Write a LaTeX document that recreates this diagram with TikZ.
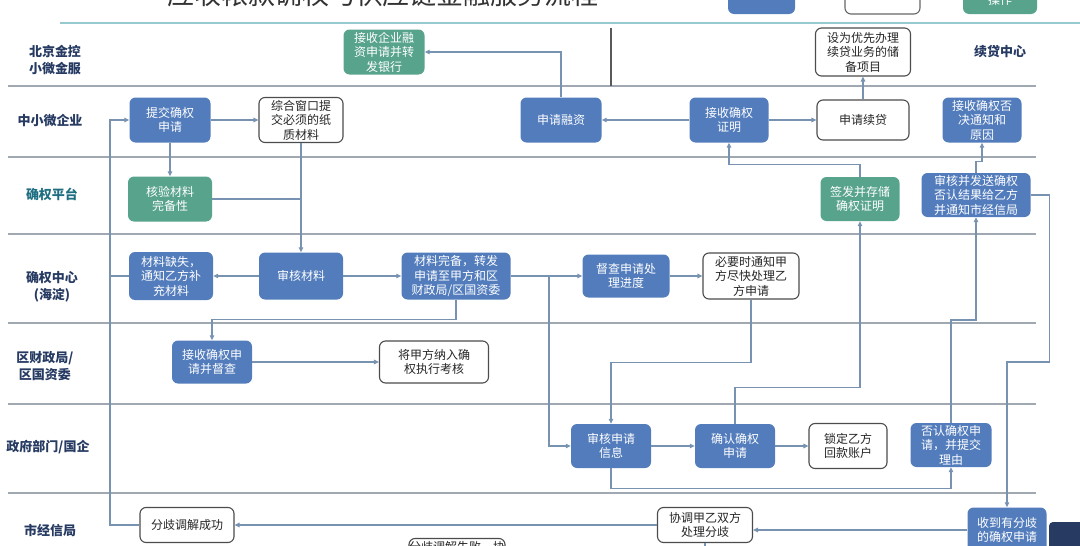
\documentclass[tikz,border=0pt]{standalone}
\usepackage{fontspec}
\setmainfont{Noto Sans CJK SC}
\usetikzlibrary{arrows.meta}
\definecolor{boxblue}{RGB}{82,124,188}
\definecolor{boxgreen}{RGB}{88,163,140}
\definecolor{flow}{RGB}{120,146,178}
\definecolor{lane}{RGB}{160,168,178}
\definecolor{lanetext}{RGB}{38,58,98}
\definecolor{laneteal}{RGB}{30,110,130}
\definecolor{titleline}{RGB}{150,202,208}

\begin{document}
\begin{tikzpicture}[x=1pt,y=-1pt,
  font=\fontsize{12}{14.5}\selectfont,
  box/.style={rounded corners=6pt,minimum width=81pt,minimum height=45pt,inner sep=1pt,align=center},
  bluebox/.style={box,fill=boxblue,text=white},
  greenbox/.style={box,fill=boxgreen,text=white},
  whitebox/.style={box,draw=black!70,line width=1.1pt,fill=white,text=black!85},
  lanelabel/.style={font=\fontsize{13}{17}\selectfont\bfseries,text=lanetext,align=center},
  lanesep/.style={draw=lane,line width=1.3pt},
  link/.style={draw=flow,line width=1.2pt},
  flowline/.style={link,-{Triangle[length=5pt,width=4.5pt]}}]
\useasboundingbox (0,0) rectangle (1080,546);

\node[anchor=base,font=\fontsize{27}{30}\selectfont,text=black!80] (title) at (383,5) {应收帐款确权与供应链金融服务流程};
\fill[boxblue,rounded corners=6pt] (728,-30) rectangle (795,14);
\draw[black!60,line width=1.1pt,rounded corners=6pt] (845,-30) rectangle (920,14);
\fill[boxgreen,rounded corners=6pt] (963,-30) rectangle (1037,14);
\node[anchor=base,text=white] (legend) at (1000,5) {操作};
\draw[titleline,line width=1.6pt] (60,23) -- (1080,23);
\fill[lanetext,rounded corners=4pt] (1049,522) rectangle (1090,560);

\foreach \y in {86,157,234,323,404,493}
  \draw[lanesep] (8,\y) -- (1036,\y);
\draw[black!65,line width=1.4pt] (611,28) -- (611,86);

\node[lanelabel] (lbj) at (55,60) {北京金控\\小微金服};
\node[lanelabel] (lsme) at (50,121) {中小微企业};
\node[lanelabel,text=laneteal] (lplat) at (52,194) {确权平台};
\node[lanelabel] (lcenter) at (52,287) {确权中心\\(海淀)};
\node[lanelabel] (lfin) at (45,366) {区财政局/\\区国资委};
\node[lanelabel] (lgov) at (48,447) {政府部门/国企};
\node[lanelabel] (lcity) at (50,530) {市经信局};
\node[lanelabel] (lloan) at (1000,52) {续贷中心};

\node[greenbox] (bank) at (384,52) {接收企业融\\资申请并转\\发银行};
\node[whitebox,minimum width=95pt,minimum height=48pt] (reserve) at (863,52) {设为优先办理\\续贷业务的储\\备项目};
\node[bluebox] (submit) at (170,120) {提交确权\\申请};
\node[whitebox,minimum width=84pt] (window) at (301,120) {综合窗口提\\交必须的纸\\质材料};
\node[bluebox] (apply) at (561,120) {申请融资};
\node[bluebox,minimum width=79pt] (proof) at (729,120) {接收确权\\证明};
\node[whitebox,minimum width=92pt,minimum height=40pt] (renew) at (863,120) {申请续贷};
\node[bluebox,minimum width=79pt] (rejectnote) at (982,120) {接收确权否\\决通知和\\原因};
\node[greenbox,minimum width=84pt] (verify) at (170,199) {核验材料\\完备性};
\node[greenbox,minimum width=79pt,minimum height=44pt] (issue) at (860,199) {签发并存储\\确权证明};
\node[bluebox,minimum width=109pt,minimum height=44pt] (sendres) at (976,195) {审核并发送确权\\否认结果给乙方\\并通知市经信局};
\node[bluebox,minimum width=84pt,minimum height=48pt] (missing) at (171,276) {材料缺失，\\通知乙方补\\充材料};
\node[bluebox,minimum width=84pt,minimum height=47pt] (review) at (301,276) {审核材料};
\node[bluebox,minimum width=109pt,minimum height=47pt] (complete) at (456,276) {材料完备，转发\\申请至甲方和区\\财政局/区国资委};
\node[bluebox,minimum width=87pt,minimum height=43pt] (supervise) at (626,276) {督查申请处\\理进度};
\node[whitebox,minimum width=96pt,minimum height=46pt] (notify) at (751,276) {必要时通知甲\\方尽快处理乙\\方申请};
\node[bluebox,minimum width=80pt,minimum height=43pt] (receivefin) at (212,362) {接收确权申\\请并督查};
\node[whitebox,minimum width=109pt,minimum height=42pt] (assess) at (434,362) {将甲方纳入确\\权执行考核};
\node[bluebox,minimum width=80pt,minimum height=44pt] (checkinfo) at (611,446) {审核申请\\信息};
\node[bluebox,minimum width=80pt,minimum height=44pt] (confirm) at (735,446) {确认确权\\申请};
\node[whitebox,minimum width=78pt,minimum height=45pt] (lock) at (848,446) {锁定乙方\\回款账户};
\node[bluebox,minimum width=81pt,minimum height=44pt] (deny) at (951,445) {否认确权申\\请，并提交\\理由};
\node[whitebox,minimum width=94pt,minimum height=35pt] (settle) at (187,525) {分歧调解成功};
\node[whitebox,minimum width=95pt,minimum height=35pt] (mediate) at (705,525) {协调甲乙双方\\处理分歧};
\node[bluebox,minimum width=79pt,minimum height=45pt] (dispute) at (1007,530) {收到有分歧\\的确权申请};
\node[whitebox,minimum width=96pt,minimum height=45pt] (fail) at (457,561) {};
\node[anchor=north,text=black!85] (failtext) at (fail.north) {分歧调解失败，协};

\coordinate (loop) at (110,120);
\coordinate (split) at (549,276);

\draw[flowline] (apply.north) |- (bank.east);
\draw[flowline] (submit) -- (window);
\draw[flowline] (settle.west) -| (loop) -- (submit.west);
\draw[link] (missing.west) -- (missing.west -| loop);
\draw[flowline] (submit) -- (verify);
\draw[flowline] (window) -- (review);
\draw[link] (verify.east) -- (verify.east -| window.south);
\draw[flowline] (review) -- (missing);
\draw[flowline] (review) -- (complete);
\draw[flowline] (complete) -- (supervise);
\draw[flowline] (split) |- (checkinfo.west);
\draw[flowline] (complete.south) -- ++(0,20) -| (receivefin.north);
\draw[flowline] (supervise) -- (notify);
\draw[flowline] (notify.south) -- ++(0,63) -| (checkinfo.north);
\draw[flowline] (receivefin) -- (assess);
\draw[flowline] (checkinfo) -- (confirm);
\draw[flowline] (confirm) -- (lock);
\draw[flowline] (confirm.north) -- ++(0,-36) -| (issue.south);
\draw[flowline] (issue.north) -- ++(0,-12) -| (proof.south);
\draw[flowline] (proof) -- (apply);
\draw[flowline] (proof) -- (renew);
\draw[flowline] (renew) -- (reserve);
\draw[flowline] (checkinfo.south) -- ++(0,20) -| (deny.south);
\draw[flowline] (deny.north) -- (deny.north |- 0,320) -| (sendres.south);
\draw[flowline] (sendres.north) -- ++(0,-11) -| (rejectnote.south);
\draw[flowline] (sendres.east) -- ++(19,0) -- ++(0,167) -| (dispute.north);
\draw[flowline] (dispute.west) -- (mediate.east |- dispute.west);
\draw[flowline] (mediate) -- (settle);
\draw[link] (mediate.south) -- ++(0,20);
\end{tikzpicture}
\end{document}
